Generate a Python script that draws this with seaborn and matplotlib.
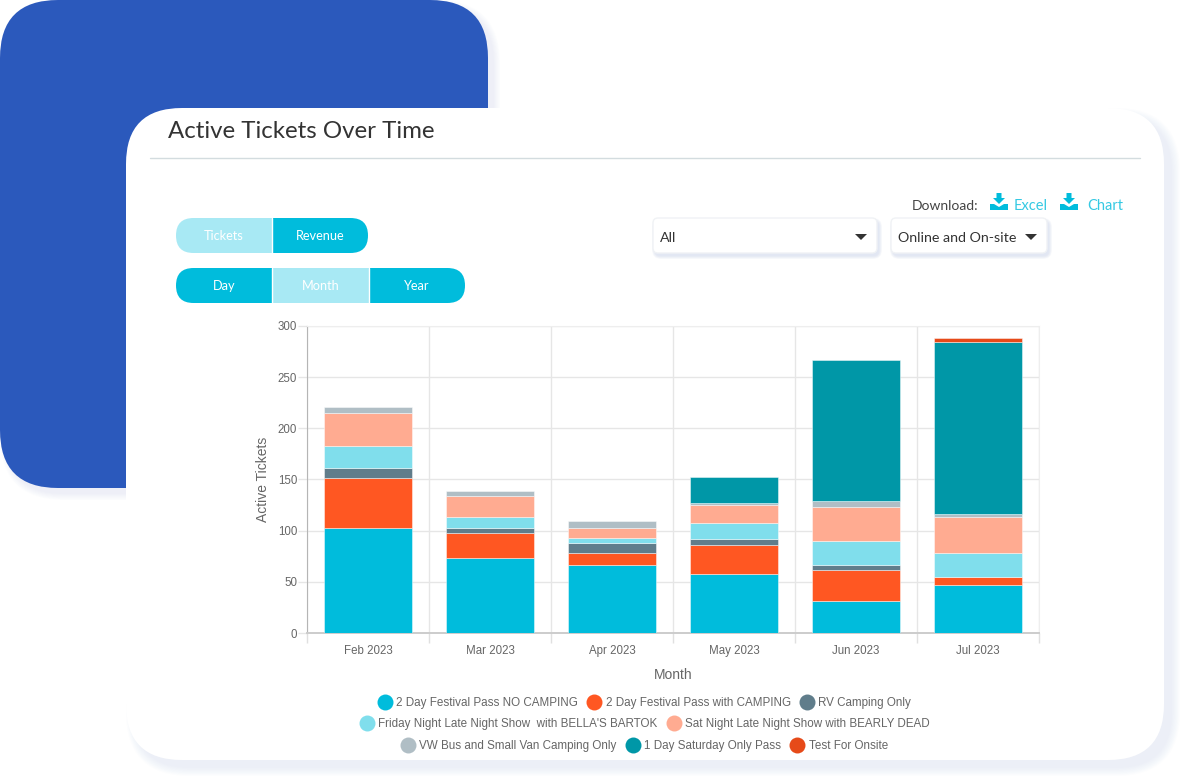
#!/usr/bin/env python3
"""Active Tickets Over Time - stacked monthly bars inside a dashboard card."""

import numpy as np
import pandas as pd
import matplotlib
matplotlib.use('Agg')
import matplotlib.pyplot as plt
from matplotlib.lines import Line2D
from matplotlib.patches import FancyBboxPatch, Polygon, Rectangle
import seaborn as sns

W, H = 1180, 776

months = ['Feb 2023', 'Mar 2023', 'Apr 2023', 'May 2023', 'Jun 2023', 'Jul 2023']

no_camping = [103, 73, 66, 58, 31, 47]
with_camping = [48, 25, 12, 28, 31, 8]
rv_camping = [10, 5, 10, 6, 4, 0]
friday_show = [22, 10, 5, 15, 24, 23]
sat_show = [32, 21, 10, 18, 33, 35]
vw_bus = [6, 5, 6, 2, 6, 3]
saturday_pass = [0, 0, 0, 25, 138, 168]
test_onsite = [0, 0, 0, 0, 0, 4]

series_names = [
    '2 Day Festival Pass NO CAMPING',
    '2 Day Festival Pass with CAMPING',
    'RV Camping Only',
    "Friday Night Late Night Show  with BELLA'S BARTOK",
    'Sat Night Late Night Show with BEARLY DEAD',
    'VW Bus and Small Van Camping Only',
    '1 Day Saturday Only Pass',
    'Test For Onsite',
]
series_values = [no_camping, with_camping, rv_camping, friday_show,
                 sat_show, vw_bus, saturday_pass, test_onsite]
series_colors = ['#00BCDC', '#FF5722', '#607D8B', '#80DEEC',
                 '#FFAB91', '#B0BEC5', '#0097A7', '#E64A19']
legend_rows = [[0, 1, 2], [3, 4], [5, 6, 7]]

CYAN = '#00BCDC'
PALE = '#A8E9F4'
UI_FONT = 'Lato'
CHART_FONT = 'Liberation Sans'
GREY = '#666666'

sns.set_style('white')
fig = plt.figure(figsize=(W / 100, H / 100), dpi=100, facecolor='white')

# pixel canvas for the card, buttons and dropdowns
bg = fig.add_axes([0, 0, 1, 1], zorder=0)
bg.set_xlim(0, W)
bg.set_ylim(H, 0)
bg.axis('off')


def rounded(x0, y0, x1, y1, r, **kws):
    patch = FancyBboxPatch((x0 + r, y0 + r), x1 - x0 - 2 * r, y1 - y0 - 2 * r,
                           boxstyle=f'round,pad={r},rounding_size={r}', **kws)
    bg.add_patch(patch)
    return patch


def soft_shadow(x0, y0, x1, y1, r, dx, dy, spread, alpha, color='#C5D0EA'):
    for s in np.linspace(spread, 0, 8):
        rounded(x0 + dx - s, y0 + dy - s, x1 + dx + s, y1 + dy + s, r + s,
                fc=color, ec='none', alpha=alpha)


def pill(x0, y0, x1, y1, splits, labels, pale_idx):
    r = (y1 - y0) / 2
    edges = [x0] + splits + [x1]
    clip = rounded(x0, y0, x1, y1, r, fc='none', ec='none')
    for i, label in enumerate(labels):
        seg = Rectangle((edges[i], y0), edges[i + 1] - edges[i], y1 - y0,
                        fc=PALE if i == pale_idx else CYAN, ec='none')
        bg.add_patch(seg)
        seg.set_clip_path(clip)
        bg.text((edges[i] + edges[i + 1]) / 2, (y0 + y1) / 2, label, color='white',
                ha='center', va='center', fontsize=9.2, family=UI_FONT)
    for s in splits:
        bg.plot([s, s], [y0, y1], color='white', lw=1)


def dropdown(x0, x1, label, arrow_x):
    soft_shadow(x0, 218, x1, 253, 6, 2, 3, 3, 0.07)
    rounded(x0, 218, x1, 253, 5, fc='white', ec='#F0F2F5', lw=1)
    bg.text(x0 + 6.5, 238, label, color='#333333', ha='left', va='center',
            fontsize=10.3, family=UI_FONT)
    bg.add_patch(Polygon([(arrow_x - 6, 234), (arrow_x + 6, 234), (arrow_x, 240)],
                         fc='#333333', ec='none'))


def download_icon(cx):
    bg.add_patch(Polygon([(cx - 2.5, 193), (cx + 2.5, 193), (cx + 2.5, 198), (cx + 6, 198),
                          (cx, 204), (cx - 6, 198), (cx - 2.5, 198)], fc=CYAN, ec='none'))
    bg.add_patch(Polygon([(cx - 9, 204), (cx - 5, 204), (cx, 207), (cx + 5, 204), (cx + 9, 204),
                          (cx + 9, 210), (cx - 9, 210)], fc=CYAN, ec='none'))


# blue block and white card behind the chart
soft_shadow(0, 0, 488, 488, 58, 6, 6, 6, 0.035)
rounded(0, 0, 488, 488, 58, fc='#2B59BC', ec='none')
soft_shadow(126, 108, 1164, 760, 56, 8, 8, 8, 0.04)
rounded(126, 108, 1164, 760, 56, fc='white', ec='none')

bg.text(168, 131, 'Active Tickets Over Time', color='#333333', ha='left', va='center',
        fontsize=17.3, family=UI_FONT)
bg.plot([150, 1140], [158, 158], color='#D3DCDF', lw=1)

pill(176, 218, 368, 253, [272], ['Tickets', 'Revenue'], 0)
pill(176, 268, 465, 303, [272, 369], ['Day', 'Month', 'Year'], 1)

dropdown(653, 877, 'All', 861)
dropdown(891, 1047, 'Online and On-site', 1031)

bg.text(912, 206, 'Download:', color='#444444', ha='left', va='center', fontsize=10, family=UI_FONT)
download_icon(999)
bg.text(1014, 206, 'Excel', color='#35C9E3', ha='left', va='center', fontsize=10.5, family=UI_FONT)
download_icon(1069)
bg.text(1087, 206, 'Chart', color='#35C9E3', ha='left', va='center', fontsize=10.5, family=UI_FONT)

# stacked chart
ax = fig.add_axes([307 / W, 1 - 633 / H, 732 / W, 307.2 / H], zorder=2)
ax.patch.set_alpha(0)

bottoms = np.zeros(len(months))
for name, values, color in zip(series_names, series_values, series_colors):
    df = pd.DataFrame({'month': months, 'tickets': values, 'base': bottoms})
    df = df[df['tickets'] > 0]
    sns.barplot(data=df, x='month', y='tickets', order=months, bottom=df['base'].to_numpy(),
                color=color, saturation=1, width=0.72, edgecolor=(1, 1, 1, 0.45),
                linewidth=0.7, errorbar=None, ax=ax, zorder=3)
    bottoms += np.array(values)

ax.set_xlim(-0.5, len(months) - 0.5)
ax.set_ylim(0, 300)
ax.set_yticks(range(0, 301, 50))
ax.set_xticks(np.arange(-0.5, len(months)), minor=True)
ax.grid(True, axis='y', which='major', color='#E6E6E6', lw=1)
ax.grid(True, axis='x', which='minor', color='#E6E6E6', lw=1)
ax.grid(False, axis='x', which='major')
ax.set_axisbelow(True)
ax.tick_params(axis='x', which='major', length=0, pad=8.5, labelsize=8.3, labelcolor=GREY)
ax.tick_params(axis='x', which='minor', length=7, width=1, color='#E0E0E0', bottom=True)
ax.tick_params(axis='y', length=6.5, width=1, color='#E6E6E6', pad=0.5, labelsize=8.3,
               labelcolor=GREY, left=True)
for label in ax.get_xticklabels() + ax.get_yticklabels():
    label.set_family(CHART_FONT)

ax.set_xlabel('Month', fontsize=10, color=GREY, family=CHART_FONT, labelpad=8)
ax.set_ylabel('Active Tickets', fontsize=10, color=GREY, family=CHART_FONT, labelpad=6)

ax.spines['left'].set_color('#B5B5B5')
ax.spines['bottom'].set_color('#CCCCCC')
ax.spines['bottom'].set_linewidth(1.4)
ax.spines['top'].set_color('#EEEEEE')
ax.spines['right'].set_color('#EEEEEE')

# one centred legend per row
for row, y_px in zip(legend_rows, [703, 724, 746]):
    handles = [Line2D([], [], ls='none', marker='o', ms=11.5, mfc=series_colors[i], mec='none')
               for i in row]
    labels = [series_names[i] for i in row]
    fig.legend(handles, labels, ncol=len(row), loc='center', frameon=False,
               bbox_to_anchor=(644 / W, 1 - y_px / H), labelcolor=GREY,
               prop={'family': CHART_FONT, 'size': 8.38}, handletextpad=0.25,
               columnspacing=0.7, handlelength=1.4, borderpad=0, borderaxespad=0)

fig.savefig('out.png', dpi=100, facecolor='white')
